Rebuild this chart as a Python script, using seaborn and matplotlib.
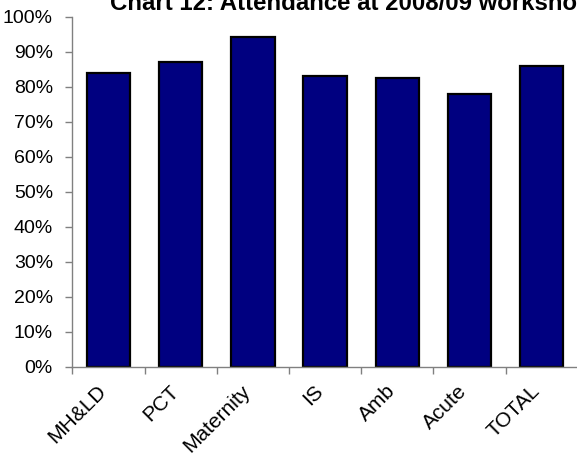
import matplotlib
matplotlib.use("Agg")
import matplotlib.pyplot as plt
import matplotlib.transforms as mtransforms
import seaborn as sns
import pandas as pd
from matplotlib.ticker import PercentFormatter, FixedLocator

# Attendance rate by staff group
groups = ["MH&LD", "PCT", "Maternity", "IS", "Amb", "Acute", "TOTAL"]
attendance = [0.841, 0.872, 0.942, 0.830, 0.825, 0.781, 0.861]
title = "Chart 12: Attendance at 2008/09 workshops"

df = pd.DataFrame({"group": groups, "attendance": attendance})

sns.set_theme(style="white")
plt.rcParams["font.family"] = ["Liberation Sans", "DejaVu Sans"]

fig = plt.figure(figsize=(5.77, 4.57), dpi=100)
ax = fig.add_axes([0.1255, 0.197, 0.876, 0.766])

sns.barplot(data=df, x="group", y="attendance", color="#000080",
            width=0.6, edgecolor="black", linewidth=1.6,
            saturation=1, ax=ax)

ax.set_ylim(0, 1.0)
ax.set_xlim(-0.5, len(groups) - 0.5)
ax.yaxis.set_major_locator(FixedLocator([i / 10 for i in range(11)]))
ax.yaxis.set_major_formatter(PercentFormatter(1.0, decimals=0))

# tick marks sit between categories; labels stay under the bars
ax.set_xticks(range(len(groups)))
ax.set_xticklabels(groups, rotation=45, ha="right", va="top",
                   rotation_mode="anchor")
ax.set_xticks([i - 0.5 for i in range(len(groups) + 1)], minor=True)
ax.tick_params(axis="x", which="major", length=0, pad=9, labelsize=15,
               colors="black")
ax.tick_params(axis="x", which="minor", length=5, width=1, color="#808080",
               direction="out", bottom=True)
ax.tick_params(axis="y", which="major", length=5, width=1, color="#808080",
               direction="out", left=True, pad=9, labelsize=14,
               labelcolor="black")

# nudge the slanted category labels left and down
shift = mtransforms.ScaledTranslation(-0.12, -0.02, fig.dpi_scale_trans)
for lab in ax.get_xticklabels():
    lab.set_transform(lab.get_transform() + shift)

for side in ("top", "right"):
    ax.spines[side].set_visible(False)
for side in ("left", "bottom"):
    ax.spines[side].set_color("#808080")
    ax.spines[side].set_linewidth(1)

ax.set_xlabel("")
ax.set_ylabel("")

fig.text(110 / 577, 1 - 10 / 457, title, ha="left", va="baseline",
         fontsize=17.3, fontweight="bold", color="black")

fig.savefig("out.png", dpi=100)
